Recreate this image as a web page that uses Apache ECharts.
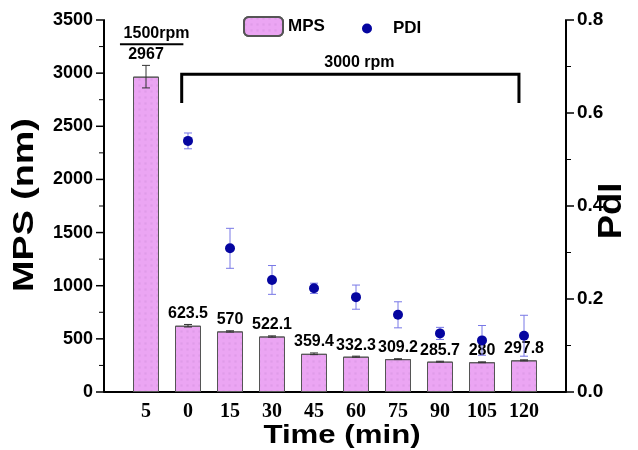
<!DOCTYPE html>
<html><head><meta charset="utf-8">
<script src="https://cdn.jsdelivr.net/npm/echarts@6/dist/echarts.min.js"></script>
<style>html,body{margin:0;padding:0;background:#fff}#c{width:638px;height:450px}</style>
</head><body><div id="c"></div>
<script>
const categories = ['5','0','15','30','45','60','75','90','105','120'];
const mpsValues = [2967,623.5,570,522.1,359.4,332.3,309.2,285.7,280,297.8];
const mpsErrors = [106,12,6,6,8,5,4,4,4,5];
const pdiValues = [null,0.540,0.309,0.241,0.223,0.204,0.166,0.126,0.111,0.121];
const pdiErrors = [null,0.017,0.043,0.031,0.011,0.026,0.028,0.013,0.032,0.044];
const leftAxisTicks = [0,3500,500];
const rightAxisTicks = [0,0.8,0.2];

const SANS = '"Liberation Sans", Arial, sans-serif';
const SERIF = '"Liberation Serif", "Times New Roman", serif';

const chart = echarts.init(document.getElementById('c'), null, {renderer:'canvas'});

const barData = mpsValues.map((v,i)=>[i,v]);
const barErrData = mpsValues.map((v,i)=>[i,v,mpsErrors[i]]);
const pdiData = pdiValues.map((v,i)=>[i,v]).filter(d=>d[1]!=null);
const pdiErrData = pdiValues.map((v,i)=>[i,v,pdiErrors[i]]).filter(d=>d[1]!=null);

function tickList(t){
  const out = [];
  const n = Math.round((t[1]-t[0])/t[2]);
  for (let k=0;k<=n;k++){
    out.push([t[0]+k*t[2], true]);
    if (k<n) out.push([t[0]+(k+0.5)*t[2], false]);
  }
  return out;
}

function errRender(color, cap, withLabel){
  return function(params, api){
    const x = api.value(0), y = api.value(1), e = api.value(2);
    const top = api.coord([x, y+e]);
    const bot = api.coord([x, y-e]);
    const style = {stroke: color, lineWidth: 1};
    const ch = [
      {type:'line', shape:{x1:top[0],y1:top[1],x2:bot[0],y2:bot[1]}, style},
      {type:'line', shape:{x1:top[0]-cap,y1:top[1],x2:top[0]+cap,y2:top[1]}, style},
      {type:'line', shape:{x1:bot[0]-cap,y1:bot[1],x2:bot[0]+cap,y2:bot[1]}, style}
    ];
    if (withLabel) {
      ch.push({type:'text', x: top[0], y: top[1]-3, style:{
        text: String(y), fill:'#000', font: 'bold 16px ' + SANS,
        textAlign:'center', textVerticalAlign:'bottom'}});
    }
    return {type:'group', children: ch};
  };
}

const option = {
  animation:false,
  backgroundColor:'#fff',
  grid:{left:104, right:72, top:20, bottom:58},
  legend:[
    {data:['MPS'], left:243, top:16, itemWidth:39, itemHeight:19, padding:0,
     textStyle:{fontFamily:SANS, fontWeight:'bold', fontSize:17, color:'#000'}},
    {data:['PDI'], left:362, top:20, itemWidth:42, itemHeight:10, padding:0,
     textStyle:{fontFamily:SANS, fontWeight:'bold', fontSize:17, color:'#000'}}
  ],
  xAxis:{type:'value', min:-1, max:10, interval:1,
    axisLine:{show:true, onZero:false, lineStyle:{color:'#000', width:2}},
    axisTick:{show:false}, splitLine:{show:false}, minorTick:{show:false},
    axisLabel:{margin:10, color:'#000', fontFamily:SERIF, fontWeight:'bold', fontSize:20,
      formatter:v=> (categories[v]!==undefined ? categories[v] : '')}
  },
  yAxis:[
    {type:'value', position:'left', min:leftAxisTicks[0], max:leftAxisTicks[1], interval:leftAxisTicks[2],
      axisLine:{show:true, onZero:false, lineStyle:{color:'#000', width:2}},
      axisTick:{show:false}, minorTick:{show:false}, splitLine:{show:false},
      axisLabel:{margin:11, color:'#000', fontFamily:SANS, fontWeight:'bold', fontSize:18,
        formatter:v=>String(v)}
    },
    {type:'value', position:'right', min:rightAxisTicks[0], max:rightAxisTicks[1], interval:rightAxisTicks[2],
      axisLine:{show:true, onZero:false, lineStyle:{color:'#000', width:2}},
      axisTick:{show:false}, minorTick:{show:false}, splitLine:{show:false},
      axisLabel:{margin:11, color:'#000', fontFamily:SANS, fontWeight:'bold', fontSize:19,
        formatter:v=>v.toFixed(1)}
    }
  ],
  series:[
    {name:'MPS', type:'bar', data:barData, barWidth:26, xAxisIndex:0, yAxisIndex:0,
      itemStyle:{color:'#eba5f3', borderColor:'#555', borderWidth:1,
        decal:{symbol:'rect', symbolSize:0.7, color:'rgba(200,140,215,0.35)', dashArrayX:[3,3], dashArrayY:[3,3]}}},
    {name:'MPSerr', type:'custom', xAxisIndex:0, yAxisIndex:0, data:barErrData,
      renderItem: errRender('#333', 4, true), z:3},
    {name:'PDIerr', type:'custom', xAxisIndex:0, yAxisIndex:1, data:pdiErrData,
      renderItem: errRender('#7878e6', 4, false), z:4},
    {name:'PDI', type:'scatter', xAxisIndex:0, yAxisIndex:1, data:pdiData,
      symbol:'circle', symbolSize:10, itemStyle:{color:'#0505a0', opacity:1}, z:5}
  ]
};
chart.setOption(option);

const P = (x,y)=>chart.convertToPixel({seriesIndex:0}, [x,y]);
const PR = (x,y)=>chart.convertToPixel({seriesIndex:3}, [x,y]);
const a1 = P(0.85, 2990), a2 = P(8.88, 2990), aLeg = P(0.85, 2720);
const b1 = P(-0.62, 3271), b2 = P(0.89, 3271);
const t3000 = P(5.08, 2990);
const t1500 = P(0.25, 3271);

const tickGraphics = [];
tickList(leftAxisTicks).forEach(([v, major])=>{
  const p = P(-1, v); const len = major ? 7 : 4;
  tickGraphics.push({type:'line', shape:{x1:p[0]-1, y1:p[1], x2:p[0]-1-len, y2:p[1]},
    style:{stroke:'#000', lineWidth: major ? 1.5 : 1}});
});
tickList(rightAxisTicks).forEach(([v, major])=>{
  const p = PR(10, v); const len = major ? 7 : 4;
  tickGraphics.push({type:'line', shape:{x1:p[0]+1, y1:p[1], x2:p[0]+1+len, y2:p[1]},
    style:{stroke:'#000', lineWidth: major ? 1.5 : 1}});
});

chart.setOption({graphic: tickGraphics.concat([
  {type:'polyline', shape:{points:[[a1[0],aLeg[1]],[a1[0],a1[1]],[a2[0],a2[1]],[a2[0],aLeg[1]]]},
    style:{stroke:'#000', lineWidth:3, fill:null}},
  {type:'text', x:t3000[0], y:t3000[1]-4, style:{text:'3000 rpm', font:'bold 16px '+SANS, fill:'#000', textAlign:'center', textVerticalAlign:'bottom'}},
  {type:'line', shape:{x1:b1[0],y1:b1[1],x2:b2[0],y2:b2[1]}, style:{stroke:'#000', lineWidth:2}},
  {type:'text', x:t1500[0], y:t1500[1]-3, style:{text:'1500rpm', font:'bold 16px '+SANS, fill:'#000', textAlign:'center', textVerticalAlign:'bottom'}},
  {type:'text', x:342, y:436, scaleX:1.2, style:{text:'Time (min)', font:'bold 26px '+SANS, fill:'#000', textAlign:'center', textVerticalAlign:'middle'}},
  {type:'text', x:25, y:205, rotation:Math.PI/2, scaleX:1.3, style:{text:'MPS (nm)', font:'bold 29px '+SANS, fill:'#000', textAlign:'center', textVerticalAlign:'middle'}},
  {type:'text', x:612, y:211, rotation:Math.PI/2, scaleX:1.1, style:{text:'PdI', font:'bold 33px '+SANS, fill:'#000', textAlign:'center', textVerticalAlign:'middle'}}
])});
</script></body></html>
